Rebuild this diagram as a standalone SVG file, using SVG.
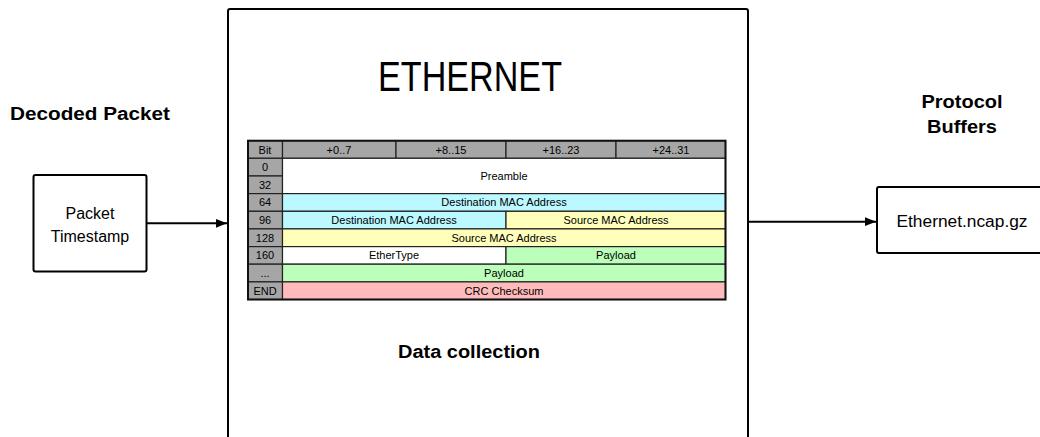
<svg xmlns="http://www.w3.org/2000/svg" width="1040" height="437" viewBox="0 0 1040 437">
<style>
text{font-family:"Liberation Sans",Arial,sans-serif;fill:#000}
.box{fill:#fff;stroke:#000;stroke-width:2}
.hd{font-weight:bold;font-size:18px;text-anchor:middle}
.lbl{font-size:16px;text-anchor:middle}
.t{font-size:11px;text-anchor:middle}
.g{fill:#a6a6a6}
.w{fill:#ffffff}
.c{fill:#bbf8ff}
.y{fill:#ffffbb}
.gr{fill:#bbffbb}
.p{fill:#ffbbbb}
.cell{stroke:#222;stroke-width:1.2}
.conn{stroke:#000;stroke-width:2;fill:none}
</style>
<defs>
<marker id="arr" viewBox="0 0 10 10" refX="10" refY="5" markerWidth="11" markerHeight="11" markerUnits="userSpaceOnUse" orient="auto">
<path d="M0,1 L10,5 L0,9 z" fill="#000"/>
</marker>
</defs>
<rect width="1040" height="437" fill="#fff"/>
<g id="decoded-label"><text class="hd" x="90" y="120" textLength="160" lengthAdjust="spacingAndGlyphs">Decoded Packet</text></g>
<g id="protocol-label"><text class="hd" x="962" y="108" textLength="81" lengthAdjust="spacingAndGlyphs">Protocol</text><text class="hd" x="962" y="133" textLength="70" lengthAdjust="spacingAndGlyphs">Buffers</text></g>
<g id="data-collection">
<rect class="box" x="228" y="9" width="520" height="450" rx="2"/>
<text x="470" y="91" font-size="42" text-anchor="middle" textLength="184" lengthAdjust="spacingAndGlyphs">ETHERNET</text>
<text class="hd" x="469" y="358" textLength="142" lengthAdjust="spacingAndGlyphs">Data collection</text>
<g id="frame-table" class="cell">
<rect class="g" x="248" y="140.7" width="34.5" height="17.6"/>
<rect class="g" x="282.5" y="140.7" width="113.5" height="17.6"/>
<rect class="g" x="396" y="140.7" width="110" height="17.6"/>
<rect class="g" x="506" y="140.7" width="110" height="17.6"/>
<rect class="g" x="616" y="140.7" width="109.5" height="17.6"/>
<rect class="g" x="248" y="158.3" width="34.5" height="17.7"/>
<rect class="g" x="248" y="176" width="34.5" height="17.6"/>
<rect class="g" x="248" y="193.6" width="34.5" height="17.7"/>
<rect class="g" x="248" y="211.3" width="34.5" height="17.6"/>
<rect class="g" x="248" y="228.9" width="34.5" height="17.7"/>
<rect class="g" x="248" y="246.6" width="34.5" height="17.6"/>
<rect class="g" x="248" y="264.2" width="34.5" height="17.7"/>
<rect class="g" x="248" y="281.9" width="34.5" height="17.6"/>
<rect class="w" x="282.5" y="158.3" width="443" height="35.3"/>
<rect class="c" x="282.5" y="193.6" width="443" height="17.7"/>
<rect class="c" x="282.5" y="211.3" width="223.5" height="17.6"/>
<rect class="y" x="506" y="211.3" width="219.5" height="17.6"/>
<rect class="y" x="282.5" y="228.9" width="443" height="17.7"/>
<rect class="w" x="282.5" y="246.6" width="223.5" height="17.6"/>
<rect class="gr" x="506" y="246.6" width="219.5" height="17.6"/>
<rect class="gr" x="282.5" y="264.2" width="443" height="17.7"/>
<rect class="p" x="282.5" y="281.9" width="443" height="17.6"/>
<rect x="248" y="140.7" width="477.5" height="158.8" fill="none" stroke="#111" stroke-width="2"/>
</g>
<g id="frame-text">
<text class="t" x="265" y="153.5">Bit</text>
<text class="t" x="339" y="153.5">+0..7</text>
<text class="t" x="451" y="153.5">+8..15</text>
<text class="t" x="561" y="153.5">+16..23</text>
<text class="t" x="671" y="153.5">+24..31</text>
<text class="t" x="265" y="171">0</text>
<text class="t" x="265" y="188.8">32</text>
<text class="t" x="265" y="206.4">64</text>
<text class="t" x="265" y="224">96</text>
<text class="t" x="265" y="241.7">128</text>
<text class="t" x="265" y="259.3">160</text>
<text class="t" x="265" y="277">...</text>
<text class="t" x="265" y="294.6">END</text>
<text class="t" x="504" y="180">Preamble</text>
<text class="t" x="504" y="206.4">Destination MAC Address</text>
<text class="t" x="394" y="224">Destination MAC Address</text>
<text class="t" x="616" y="224">Source MAC Address</text>
<text class="t" x="504" y="241.7">Source MAC Address</text>
<text class="t" x="394" y="259.3">EtherType</text>
<text class="t" x="616" y="259.3">Payload</text>
<text class="t" x="504" y="277">Payload</text>
<text class="t" x="504" y="294.6">CRC Checksum</text>
</g>
</g>
<g id="packet-timestamp">
<rect class="box" x="33.5" y="175" width="113" height="96.5" rx="2"/>
<text class="lbl" x="90" y="219">Packet</text>
<text class="lbl" x="90" y="241.5">Timestamp</text>
</g>
<g id="ethernet-ncap">
<rect class="box" x="877" y="187" width="175" height="66" rx="2"/>
<text class="lbl" x="962" y="226.5" textLength="131" lengthAdjust="spacingAndGlyphs">Ethernet.ncap.gz</text>
</g>
<g id="connectors">
<path class="conn" d="M146.5,223.3 L227,223.3" marker-end="url(#arr)"/>
<path class="conn" d="M748,221.7 L876,221.7" marker-end="url(#arr)"/>
</g>
</svg>
